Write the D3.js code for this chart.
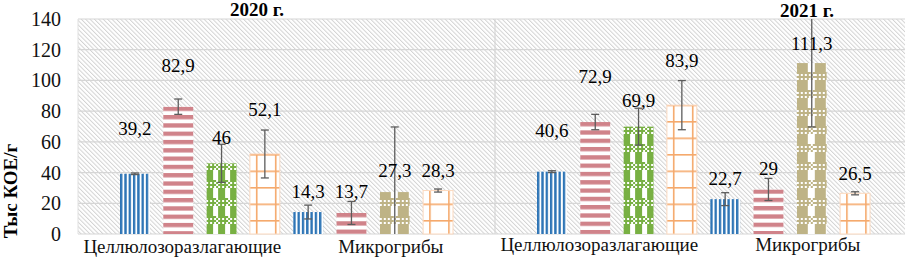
<!DOCTYPE html>
<html>
<head>
<meta charset="utf-8">
<title>КОЕ 2020-2021</title>
<script src="https://cdn.jsdelivr.net/npm/d3@7"></script>
<style>
  body { margin: 0; background: #fff; }
</style>
</head>
<body>
<div id="chart"></div>
<script>
// ---- data ----
var years = ["2020 г.", "2021 г."];
var groups = ["Целлюлозоразлагающие", "Микрогрибы"];
var yTicks = [0, 20, 40, 60, 80, 100, 120, 140];

// 8 bars per year: 4 variants x 2 groups
var values2020 = [39.2, 82.9, 46, 52.1, 14.3, 13.7, 27.3, 28.3];
var values2021 = [40.6, 72.9, 69.9, 83.9, 22.7, 29, 111.3, 26.5];
var errors2020 = [0.5, 5, 12.4, 15.6, 4.5, 7.5, 42.4, 1];
var errors2021 = [0.6, 5, 12, 16, 4.2, 7.2, 41.6, 1];
// where the value labels were put by hand (in axis units, baseline)
var labelAt2020 = [64.5, 105.5, 58.6, 76.8, 23.4, 23.4, 37.1, 37.1];
var labelAt2021 = [63.2, 98.3, 82.7, 108.7, 31.9, 38.4, 119.8, 35.2];

var values = [values2020, values2021];
var errors = [errors2020, errors2021];
var labelAt = [labelAt2020, labelAt2021];

// ---- layout ----
var W = 911, H = 259;
var pLeft = 78, pRight = 905, pTop = 19, pBottom = 234;
var panelW = 417;

var svg = d3.select("#chart").append("svg")
    .attr("width", W).attr("height", H);
var defs = svg.append("defs");

function serif(sel, size, bold) {
  sel.style("font-family", "'Liberation Serif'")
     .style("font-size", size + "px")
     .style("font-weight", bold ? "bold" : "normal");
}

var y = d3.scaleLinear().domain([0, 140]).range([pBottom, pTop]);
var xPanel = d3.scaleBand().domain(years).range([pLeft, pLeft + 2 * panelW]);
var xBar = d3.scaleBand().domain(d3.range(8)).range([0, panelW])
    .paddingInner(0.31).paddingOuter(0.97);
var xGroup = d3.scaleBand().domain(groups).range([0, panelW]);

// ---- background hatch ----
var hatch = defs.append("pattern")
    .attr("id", "hatch")
    .attr("patternUnits", "userSpaceOnUse")
    .attr("width", 3.1).attr("height", 10)
    .attr("patternTransform", "rotate(-45)");
hatch.append("rect").attr("width", 3.1).attr("height", 10).attr("fill", "#fff");
hatch.append("line")
    .attr("x1", 0.5).attr("y1", 0).attr("x2", 0.5).attr("y2", 10)
    .attr("stroke", "#cfcfcf").attr("stroke-width", 0.9);

svg.append("rect")
    .attr("x", pLeft).attr("y", pTop)
    .attr("width", pRight - pLeft).attr("height", pBottom - pTop)
    .attr("fill", "url(#hatch)");

// gridlines
svg.append("g").selectAll("line")
    .data(yTicks)
    .enter().append("line")
    .attr("x1", pLeft).attr("x2", pRight)
    .attr("y1", function(d) { return y(d); })
    .attr("y2", function(d) { return y(d); })
    .attr("stroke", "#d6d6d6").attr("stroke-width", 1.2);

svg.append("line")
    .attr("x1", pLeft).attr("x2", pLeft)
    .attr("y1", pTop).attr("y2", pBottom)
    .attr("stroke", "#e0e0e0");

svg.append("line")
    .attr("x1", xPanel(years[1])).attr("x2", xPanel(years[1]))
    .attr("y1", pTop).attr("y2", pBottom)
    .attr("stroke", "#d6d6d6").attr("stroke-width", 1.2);

// ---- bar fill patterns ----
var blue = "#2e75b6", red = "#d0838a", green = "#78b043", tan = "#beb386", orange = "#f5a96c";

function stripesV(id, x0, color) {
  var p = defs.append("pattern").attr("id", id)
      .attr("patternUnits", "userSpaceOnUse")
      .attr("x", x0).attr("width", 4.3).attr("height", 10);
  p.append("rect").attr("width", 4.3).attr("height", 10).attr("fill", "#fff");
  p.append("rect").attr("width", 2.4).attr("height", 10).attr("fill", color);
}
function stripesH(id, y0, color) {
  var p = defs.append("pattern").attr("id", id)
      .attr("patternUnits", "userSpaceOnUse")
      .attr("y", y0).attr("width", 10).attr("height", 8.3);
  p.append("rect").attr("width", 10).attr("height", 8.3).attr("fill", "#fff");
  p.append("rect").attr("width", 10).attr("height", 4.3).attr("fill", color);
}
function plaid(id, x0, tileW, stripeW, color) {
  var tileH = 18, band = 8;
  var p = defs.append("pattern").attr("id", id)
      .attr("patternUnits", "userSpaceOnUse")
      .attr("x", x0).attr("y", 0)
      .attr("width", tileW).attr("height", tileH);
  p.append("rect").attr("width", tileW).attr("height", tileH).attr("fill", "#fff");
  p.append("rect").attr("y", band).attr("width", stripeW).attr("height", tileH - band).attr("fill", color);
  var cells = [];
  for (var cy = 0; cy < band; cy += 2)
    for (var cx = 0; cx < tileW; cx += 2)
      if (((cx + cy) / 2) % 2 === 0 || cx < stripeW && (cy / 2) % 2 === 0) cells.push([cx, cy]);
  p.selectAll("rect.c").data(cells).enter().append("rect")
      .attr("class", "c")
      .attr("x", function(d) { return d[0]; })
      .attr("y", function(d) { return d[1]; })
      .attr("width", 2).attr("height", 2)
      .attr("fill", color);
}
function grid(id, x0, y0, color) {
  var p = defs.append("pattern").attr("id", id)
      .attr("patternUnits", "userSpaceOnUse")
      .attr("x", x0).attr("y", y0).attr("width", 19).attr("height", 16.5);
  p.append("rect").attr("width", 19).attr("height", 16.5).attr("fill", "#fff");
  p.append("rect").attr("width", 19).attr("height", 1.6).attr("fill", color);
  p.append("rect").attr("x", 0).attr("width", 1.6).attr("height", 16.5).attr("fill", color);
}

// ---- bars ----
var bars = [];
years.forEach(function(yr, p) {
  values[p].forEach(function(v, i) {
    bars.push({
      year: yr, p: p, i: i, value: v, err: errors[p][i], labelAt: labelAt[p][i],
      x: xPanel(yr) + xBar(i)
    });
  });
});

bars.forEach(function(d, k) {
  var id = "fill" + k, kind = d.i % 4, x0 = d.x, top0 = y(d.value);
  if (kind === 0) stripesV(id, x0, blue);
  else if (kind === 1) stripesH(id, top0, red);
  else if (kind === 2 && d.i < 4) plaid(id, x0 - 0.5, 12, 7, green);
  else if (kind === 2) plaid(id, x0, 18, 11, tan);
  else grid(id, x0 + 6, y(0) - 14, orange);
  d.fill = "url(#" + id + ")";
});

var gBars = svg.append("g");
gBars.selectAll("rect")
    .data(bars)
    .enter().append("rect")
    .attr("x", function(d) { return d.x; })
    .attr("y", function(d) { return y(d.value); })
    .attr("width", xBar.bandwidth())
    .attr("height", function(d) { return y(0) - y(d.value); })
    .attr("fill", function(d) { return d.fill; })
    .attr("stroke", function(d) { return d.i % 4 === 3 ? "#fbd9bf" : "none"; })
    .attr("stroke-width", 1);

// ---- error bars ----
var gErr = svg.append("g")
    .attr("stroke", "#5c5c5c").attr("stroke-width", 1.3);
bars.forEach(function(d) {
  var cx = d.x + xBar.bandwidth() / 2;
  var lo = d.value - d.err, hi = d.value + d.err;
  var loC = Math.max(lo, 0), hiC = Math.min(hi, 140);
  gErr.append("line")
      .attr("x1", cx).attr("x2", cx)
      .attr("y1", y(loC)).attr("y2", y(hiC));
  if (lo >= 0)
    gErr.append("line").attr("x1", cx - 4).attr("x2", cx + 4)
        .attr("y1", y(lo)).attr("y2", y(lo));
  if (hi <= 140)
    gErr.append("line").attr("x1", cx - 4).attr("x2", cx + 4)
        .attr("y1", y(hi)).attr("y2", y(hi));
});

// ---- value labels ----
svg.append("g").selectAll("text")
    .data(bars)
    .enter().append("text")
    .attr("x", function(d) { return d.x + xBar.bandwidth() / 2; })
    .attr("y", function(d) { return y(d.labelAt); })
    .attr("text-anchor", "middle")
    .attr("fill", "#000")
    .call(serif, 19, false)
    .text(function(d) { return String(d.value).replace(".", ","); });

// ---- y axis labels ----
svg.append("g").selectAll("text")
    .data(yTicks)
    .enter().append("text")
    .attr("x", 61)
    .attr("y", function(d) { return y(d); })
    .attr("dy", "0.35em")
    .attr("text-anchor", "end")
    .attr("fill", "#111")
    .call(serif, 20, false)
    .text(function(d) { return d; });

svg.append("text")
    .attr("transform", "translate(17," + 191 + ") rotate(-90)")
    .attr("text-anchor", "middle")
    .call(serif, 19, true)
    .text("Тыс КОЕ/г");

// ---- category labels ----
years.forEach(function(yr, p) {
  svg.append("g").selectAll("text")
      .data(groups)
      .enter().append("text")
      .attr("x", function(g) { return xPanel(yr) + xGroup(g) + xGroup.bandwidth() / 2; })
      .attr("y", p === 0 ? 253 : 251)
      .attr("text-anchor", "middle")
      .attr("fill", "#111")
      .call(serif, 19, false)
      .text(function(g) { return g; });
});

// ---- year titles ----
var titleX = [257, 807], titleY = [16, 17];
svg.append("g").selectAll("text")
    .data(years)
    .enter().append("text")
    .attr("x", function(d, i) { return titleX[i]; })
    .attr("y", function(d, i) { return titleY[i]; })
    .attr("text-anchor", "middle")
    .call(serif, 19, true)
    .text(function(d) { return d; });
</script>
</body>
</html>
